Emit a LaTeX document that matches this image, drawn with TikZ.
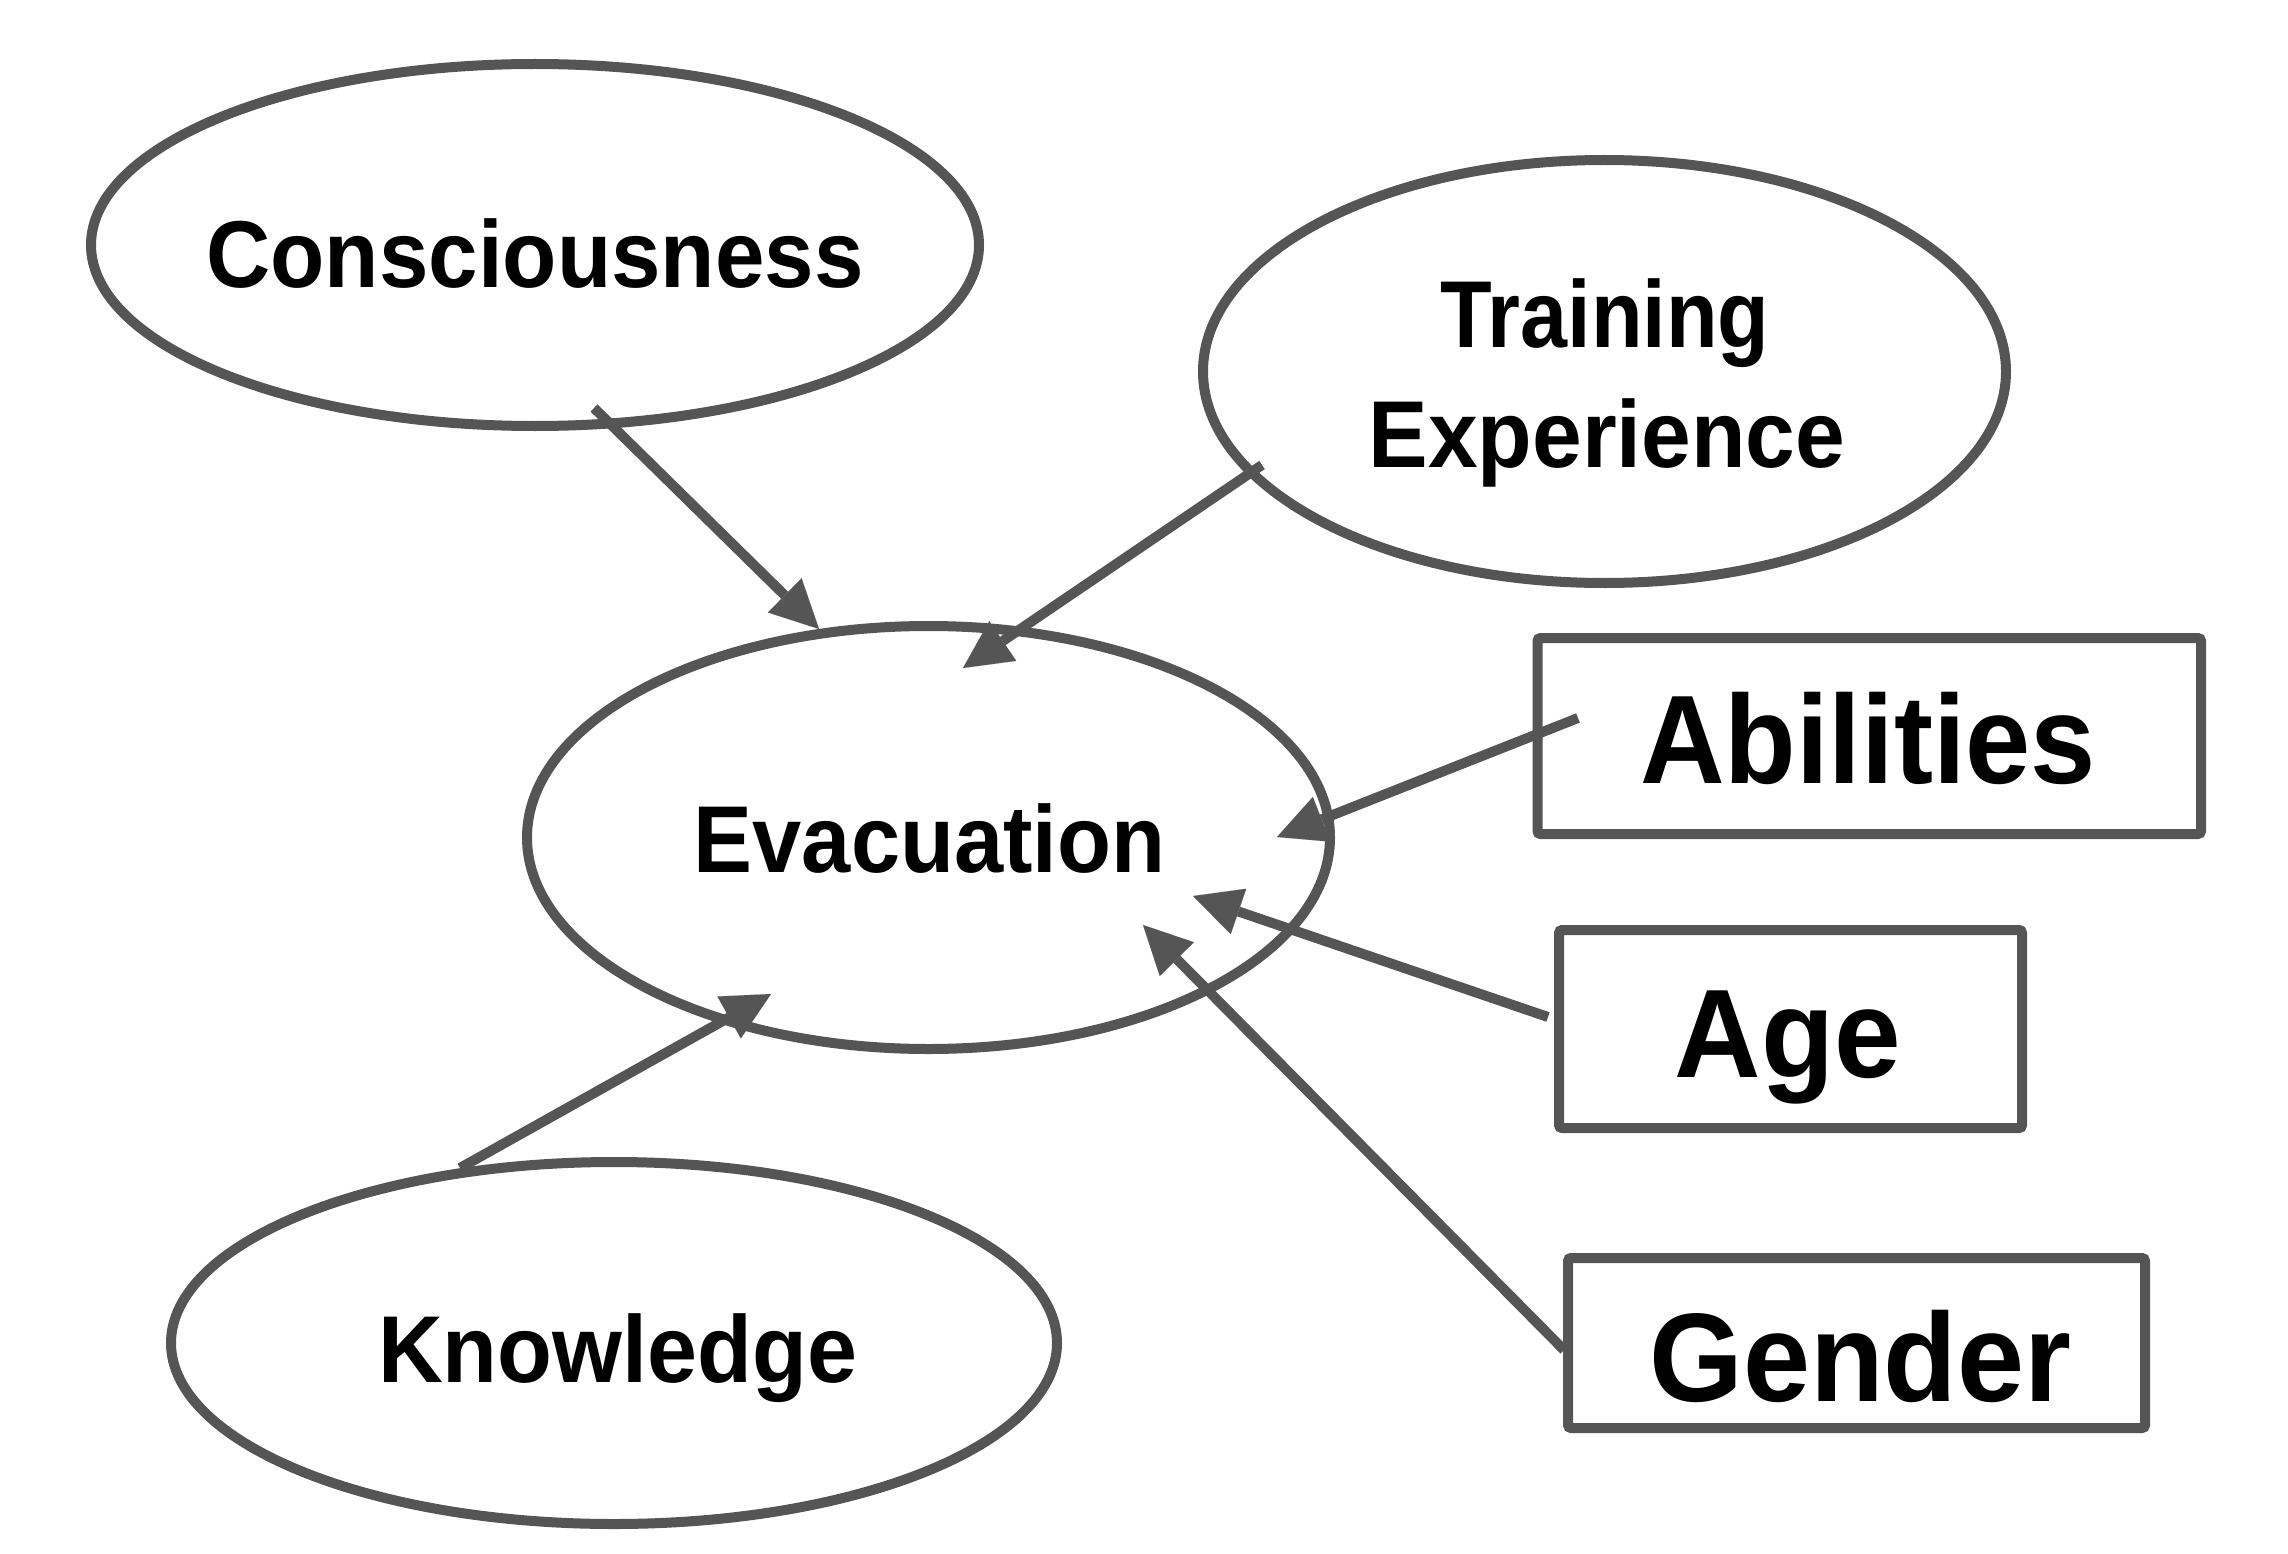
\documentclass[tikz,border=0pt]{standalone}
\usepackage{fontspec}
\usepackage{graphicx}
\setmainfont{Liberation Sans}
\usetikzlibrary{shapes.geometric,arrows.meta}
\definecolor{lc}{HTML}{555555}
\newcommand{\hs}[2]{\scalebox{#1}[1]{#2}}
\tikzset{
  oval/.style={ellipse, draw=lc, line width=10pt, inner sep=0pt, outer sep=0pt},
  boxn/.style={rectangle, draw=lc, line width=10pt, rounded corners=3pt, inner sep=0pt, outer sep=0pt},
  lab/.style={anchor=base, inner sep=0pt, text=black, align=center},
  small/.style={font=\fontsize{95}{95}\selectfont\bfseries},
  big/.style={font=\fontsize{126}{126}\selectfont\bfseries},
  arr/.style={draw=lc, line width=10pt, -{Triangle[length=48pt,width=48pt,line width=0.01pt]}}
}
\begin{document}
\begin{tikzpicture}[x=1pt,y=-1pt]
\useasboundingbox (0,0) rectangle (2288,1554);
% shapes
\node[oval, minimum width=888pt, minimum height=362pt] (cons) at (535,245) {};
\node[oval, minimum width=803pt, minimum height=423pt] (train) at (1604.5,371.5) {};
\node[oval, minimum width=803pt, minimum height=423pt] (evac) at (928.5,837.5) {};
\node[oval, minimum width=886pt, minimum height=362pt] (know) at (614,1343) {};
\node[boxn, minimum width=663.5pt, minimum height=196pt] (abil) at (1869.25,736) {};
\node[boxn, minimum width=463pt, minimum height=198pt] (age) at (1790.5,1029) {};
\node[boxn, minimum width=577pt, minimum height=170pt] (gend) at (1856.5,1343) {};
% labels
\node[lab, small] (tcons) at (535,287.5) {\hs{0.936}{Consciousness}};
\node[lab, small] (ttrain1) at (1605,347) {\hs{0.89}{Training}};
\node[lab, small] (ttrain2) at (1607,467) {\hs{0.94}{Experience}};
\node[lab, small] (tevac) at (929.5,872) {\hs{0.93}{Evacuation}};
\node[lab, small] (tknow) at (617.5,1382) {\hs{0.945}{Knowledge}};
\node[lab, big] (tabil) at (1868,783) {\hs{0.93}{Abilities}};
\node[lab, big] (tage) at (1788,1077) {\hs{0.95}{Age}};
\begin{scope}
\clip (1580,1270) rectangle (2140,1403);
\node[lab, big] (tgend) at (1860.5,1401) {\hs{0.957}{Gender}};
\end{scope}
% connector end points
\coordinate (c1s) at (594,408);   \coordinate (c1t) at (819,629);
\coordinate (c2s) at (1262,465);  \coordinate (c2t) at (963,668);
\coordinate (c3s) at (1578,718);  \coordinate (c3t) at (1277,837);
\coordinate (c4s) at (1548,1017); \coordinate (c4t) at (1193,896);
\coordinate (c5s) at (1564,1350); \coordinate (c5t) at (1143,925);
\coordinate (c6s) at (460,1168);  \coordinate (c6t) at (771,994);
% connectors
\draw[arr] (c1s) -- (c1t);
\draw[arr] (c2s) -- (c2t);
\draw[arr] (c3s) -- (c3t);
\draw[arr] (c4s) -- (c4t);
\draw[arr] (c5s) -- (c5t);
\draw[arr] (c6s) -- (c6t);
\end{tikzpicture}
\end{document}
